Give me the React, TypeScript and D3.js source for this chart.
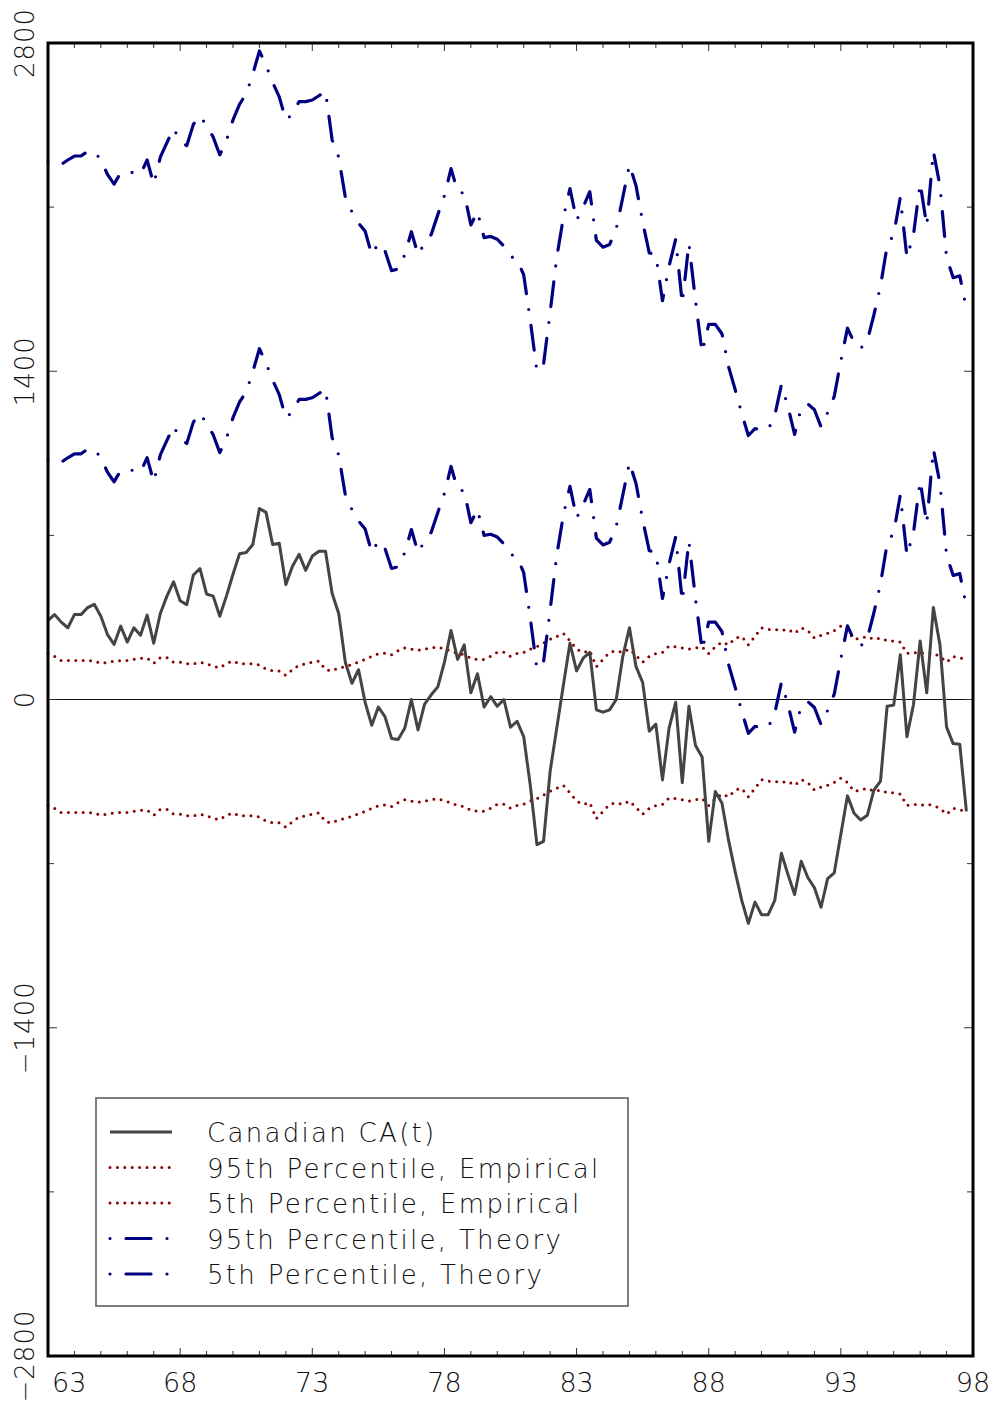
import React from 'react';
import * as d3 from 'd3';

// ---- data (quarterly, 1963Q1 .. 1997Q4) ----
const startYear = 63;
const xTickLabels = [63, 68, 73, 78, 83, 88, 93, 98];
const yMajorTicks = [2800, 1400, 0, -1400, -2800];
const yMinorTicks = [2100, 700, -700, -2100];

const caValues = [
  338, 362, 330, 306, 362, 362, 392, 406, 355, 277,
  235, 313, 245, 306, 274, 360, 240, 367, 441, 502,
  421, 404, 531, 558, 450, 441, 355, 441, 534, 622,
  627, 661, 815, 798, 661, 666, 490, 568, 619, 551,
  612, 632, 632, 453, 367, 159, 69, 127, -12, -110,
  -32, -73, -166, -171, -122, 0, -130, -20, 20, 54,
  159, 294, 171, 233, 29, 110, -32, 12, -29, 0,
  -118, -93, -159, -367, -619, -605, -306, -122, 61, 240,
  122, 176, 201, -44, -54, -44, 0, 184, 306, 140,
  73, -135, -105, -343, -122, -12, -355, -29, -196, -245,
  -605, -392, -441, -600, -734, -857, -955, -864, -918, -918,
  -857, -656, -747, -832, -690, -759, -803, -886, -764, -739,
  -575, -411, -485, -514, -494, -387, -348, -29, -24, 191,
  -159, -20, 250, 29, 392, 233, -118, -188, -191, -477,
];

const empirical95 = [
  196, 184, 166, 166, 166, 166, 166, 164, 154, 159,
  164, 166, 166, 171, 176, 176, 154, 179, 179, 159,
  159, 152, 152, 159, 152, 142, 135, 154, 164, 152,
  152, 152, 147, 130, 122, 122, 103, 127, 147, 152,
  159, 164, 127, 122, 135, 140, 150, 160, 171, 184,
  195, 198, 191, 208, 220, 215, 210, 215, 220, 225,
  215, 208, 196, 191, 176, 171, 171, 184, 201, 201,
  184, 196, 201, 215, 225, 240, 257, 269, 282, 250,
  215, 201, 208, 140, 171, 201, 208, 201, 215, 188,
  159, 184, 196, 201, 228, 225, 220, 215, 220, 225,
  196, 225, 245, 233, 262, 269, 233, 269, 306, 299,
  299, 294, 299, 282, 306, 294, 262, 274, 282, 294,
  313, 294, 257, 262, 269, 257, 262, 250, 250, 245,
  196, 201, 196, 201, 196, 184, 159, 184, 176, 176,
];

const empirical5 = [
  -452, -464, -482, -482, -482, -482, -482, -484, -494, -489,
  -484, -482, -482, -477, -472, -472, -494, -469, -469, -489,
  -489, -496, -496, -489, -496, -506, -513, -494, -484, -496,
  -496, -496, -501, -518, -526, -526, -545, -521, -501, -496,
  -489, -484, -521, -526, -513, -508, -498, -488, -477, -464,
  -453, -450, -457, -440, -428, -433, -438, -433, -428, -423,
  -433, -440, -452, -457, -472, -477, -477, -464, -447, -447,
  -464, -452, -447, -433, -423, -408, -391, -379, -366, -398,
  -433, -447, -440, -508, -477, -447, -440, -447, -433, -460,
  -489, -464, -452, -447, -420, -423, -428, -433, -428, -423,
  -452, -423, -403, -415, -386, -379, -415, -379, -342, -349,
  -349, -354, -349, -366, -342, -354, -386, -374, -366, -354,
  -335, -354, -391, -386, -379, -391, -386, -398, -398, -403,
  -452, -447, -452, -447, -452, -464, -489, -464, -472, -472,
];

const theory95 = [
  2294, 2282, 2282, 2301, 2318, 2318, 2338, 2338, 2301, 2240,
  2198, 2247, 2250, 2247, 2240, 2301, 2198, 2313, 2375, 2436,
  2382, 2362, 2453, 2490, 2448, 2399, 2323, 2384, 2472, 2539,
  2583, 2668, 2766, 2705, 2632, 2570, 2472, 2497, 2550, 2550,
  2557, 2575, 2595, 2387, 2313, 2142, 2080, 2032, 1997, 1897,
  1946, 1914, 1829, 1836, 1897, 1995, 1897, 1946, 1983, 2068,
  2149, 2264, 2166, 2159, 2024, 2081, 1970, 1975, 1963, 1934,
  1890, 1877, 1811, 1616, 1400, 1430, 1652, 1885, 2056, 2179,
  2044, 2100, 2166, 1958, 1929, 1941, 2007, 2142, 2281, 2191,
  2037, 1905, 1897, 1701, 1848, 1963, 1689, 1946, 1700, 1480,
  1600, 1600, 1560, 1420, 1322, 1220, 1126, 1155, 1151, 1151,
  1212, 1342, 1249, 1131, 1244, 1261, 1236, 1163, 1224, 1293,
  1444, 1584, 1523, 1498, 1530, 1640, 1763, 1934, 1983, 2142,
  1885, 1983, 2203, 2020, 2338, 2191, 1885, 1799, 1807, 1665,
];

const theory5 = [
  1024, 1012, 1012, 1031, 1048, 1048, 1068, 1068, 1031, 970,
  928, 977, 980, 977, 970, 1031, 928, 1043, 1105, 1166,
  1112, 1092, 1183, 1220, 1178, 1129, 1053, 1114, 1202, 1269,
  1313, 1398, 1496, 1435, 1362, 1300, 1202, 1227, 1280, 1280,
  1287, 1305, 1325, 1117, 1043, 872, 810, 762, 727, 627,
  676, 644, 559, 566, 627, 725, 627, 676, 713, 798,
  879, 994, 896, 889, 754, 811, 700, 705, 693, 664,
  620, 607, 541, 346, 130, 160, 382, 615, 786, 909,
  774, 830, 896, 688, 659, 671, 737, 872, 1011, 921,
  767, 635, 627, 431, 578, 693, 419, 676, 430, 210,
  330, 330, 290, 150, 52, -50, -144, -115, -119, -119,
  -58, 72, -21, -139, -26, -9, -34, -107, -46, 23,
  174, 314, 253, 228, 260, 370, 493, 664, 713, 872,
  615, 713, 933, 750, 1068, 921, 615, 529, 537, 395,
];

const legendLabels = [
  'Canadian CA(t)',
  '95th Percentile, Empirical',
  '5th Percentile, Empirical',
  '95th Percentile, Theory',
  '5th Percentile, Theory',
];

// ---- styles ----
const W = 993;
const H = 1405;
const plot = { left: 48, right: 973, top: 43, bottom: 1356 };
const FONT = "'DejaVu Sans', sans-serif";
const caStyle = { stroke: '#444444', strokeWidth: 3, dash: undefined as string | undefined, cap: 'butt' };
const empStyle = { stroke: '#8b0000', strokeWidth: 3, dash: '0 7.4', cap: 'round' };
const theoryStyle = { stroke: '#000080', strokeWidth: 3.2, dash: '0 16 25 16', cap: 'round' };

const x = d3.scaleLinear().domain([63, 98]).range([plot.left, plot.right]);
const y = d3.scaleLinear().domain([-2800, 2800]).range([plot.bottom, plot.top]);

const line = d3
  .line<number>()
  .x((_, i) => x(startYear + i / 4))
  .y((d) => y(d));

type S = typeof caStyle;
const series: { values: number[]; style: S }[] = [
  { values: empirical95, style: empStyle },
  { values: empirical5, style: empStyle },
  { values: theory95, style: theoryStyle },
  { values: theory5, style: theoryStyle },
  { values: caValues, style: caStyle },
];
const legendStyles: S[] = [caStyle, empStyle, empStyle, theoryStyle, theoryStyle];

export default function App() {
  const years = d3.range(63, 99);
  return (
    <svg
      width={W}
      height={H}
      style={{ position: 'absolute', left: 0, top: 0, background: '#fff' }}
    >
      <rect x={0} y={0} width={W} height={H} fill="#fff" />
      {/* zero line */}
      <line x1={plot.left} x2={plot.right} y1={y(0)} y2={y(0)} stroke="#111" strokeWidth={1.2} />
      {series.map((s, i) => (
        <path
          key={i}
          d={line(s.values) || ''}
          fill="none"
          stroke={s.style.stroke}
          strokeWidth={s.style.strokeWidth}
          strokeDasharray={s.style.dash}
          strokeLinecap={s.style.cap as any}
          strokeLinejoin="round"
        />
      ))}
      {/* x ticks bottom & top */}
      {years.map((yr) => {
        const major = xTickLabels.includes(yr);
        const len = major ? 8 : 5;
        return (
          <g key={yr} stroke="#333" strokeWidth={1}>
            <line x1={x(yr)} x2={x(yr)} y1={plot.bottom} y2={plot.bottom - len} />
            <line x1={x(yr)} x2={x(yr)} y1={plot.top} y2={plot.top + len} />
          </g>
        );
      })}
      {/* y ticks left & right */}
      {[...yMajorTicks.map((v) => [v, 9]), ...yMinorTicks.map((v) => [v, 6])].map(([v, len]) => (
        <g key={v} stroke="#333" strokeWidth={1}>
          <line x1={plot.left} x2={plot.left + len} y1={y(v)} y2={y(v)} />
          <line x1={plot.right} x2={plot.right - len} y1={y(v)} y2={y(v)} />
        </g>
      ))}
      {/* frame */}
      <rect
        x={plot.left}
        y={plot.top}
        width={plot.right - plot.left}
        height={plot.bottom - plot.top}
        fill="none"
        stroke="#000"
        strokeWidth={3}
      />
      {/* x labels */}
      {xTickLabels.map((yr, i) => (
        <text
          key={yr}
          x={i === 0 ? x(yr) + 4 : x(yr)}
          y={1392}
          textAnchor={i === 0 ? 'start' : 'middle'}
          fontFamily={FONT}
          fontWeight={200}
          fontSize={27}
          fill="#111"
        >
          {yr}
        </text>
      ))}
      {/* y labels */}
      {yMajorTicks.map((v) => (
        <text
          key={v}
          transform={`translate(34,${y(v)}) rotate(-90)`}
          textAnchor="middle"
          fontFamily={FONT}
          fontWeight={200}
          fontSize={26}
          letterSpacing={1}
          fill="#111"
        >
          {v < 0 ? `\u2212${Math.abs(v)}` : `${v}`}
        </text>
      ))}
      {/* legend */}
      <rect x={96} y={1098} width={532} height={208} fill="#fff" stroke="#555" strokeWidth={1.5} />
      {legendLabels.map((lab, i) => {
        const cy = 1132 + i * 35.5;
        const st = legendStyles[i];
        return (
          <g key={lab}>
            <line
              x1={110}
              x2={172}
              y1={cy}
              y2={cy}
              stroke={st.stroke}
              strokeWidth={st.strokeWidth}
              strokeDasharray={st.dash}
              strokeLinecap={st.cap as any}
            />
            <text
              x={207}
              y={cy + 10}
              fontFamily={FONT}
              fontWeight={200}
              fontSize={26}
              letterSpacing={2.3}
              fill="#111"
            >
              {lab}
            </text>
          </g>
        );
      })}
    </svg>
  );
}
